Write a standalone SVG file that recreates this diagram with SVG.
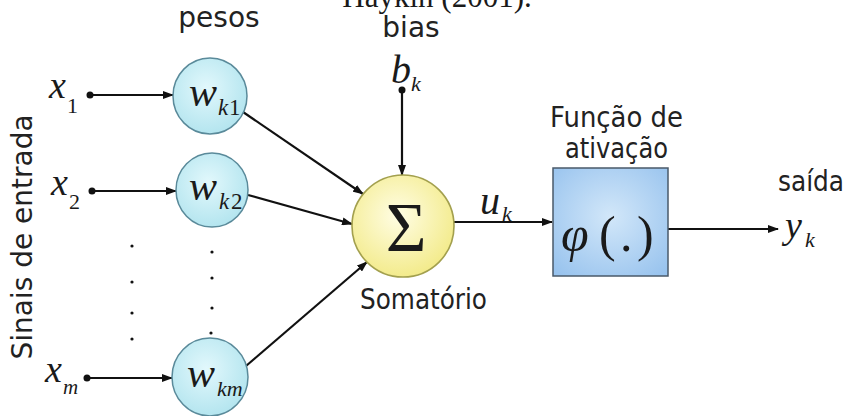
<svg xmlns="http://www.w3.org/2000/svg" width="851" height="416" viewBox="0 0 851 416">
<style>
.lbl{font-family:"DejaVu Sans","Verdana",sans-serif;font-size:28px;fill:#222}
.m{font-family:"Liberation Serif","Times New Roman",serif;font-style:italic;fill:#1a1a1a}
.up{font-family:"Liberation Serif","Times New Roman",serif;fill:#1a1a1a}
.ln{stroke:#111;stroke-width:2.2;fill:none}
.wc{fill:url(#gb);stroke:#5a8a9a;stroke-width:1.5}
.dot{fill:#111}
</style>
<defs>
<marker id="ah" markerUnits="userSpaceOnUse" markerWidth="11" markerHeight="8" refX="10" refY="4" orient="auto">
<path d="M0,0 L11,4 L0,8 z" fill="#111"/>
</marker>
<radialGradient id="gb" cx="0.45" cy="0.4" r="0.6">
<stop offset="0" stop-color="#e2f8fc"/>
<stop offset="1" stop-color="#b4e5ef"/>
</radialGradient>
<radialGradient id="gy" cx="0.45" cy="0.4" r="0.6">
<stop offset="0" stop-color="#fffde4"/>
<stop offset="1" stop-color="#f3eb8c"/>
</radialGradient>
<radialGradient id="gbox" cx="0.5" cy="0.45" r="0.7">
<stop offset="0" stop-color="#d2e7f9"/>
<stop offset="1" stop-color="#98c3ee"/>
</radialGradient>
</defs>
<rect width="851" height="416" fill="#fff"/>
<text class="up" x="437" y="7" font-size="31" text-anchor="middle">Haykin (2001).</text>
<text class="lbl" x="219" y="27" text-anchor="middle">pesos</text>
<text class="lbl" x="411" y="37" text-anchor="middle">bias</text>
<text class="lbl" transform="translate(32,237) rotate(-90)" text-anchor="middle" font-size="25">Sinais de entrada</text>
<g id="connectors">
<line class="ln" x1="90" y1="95" x2="173" y2="95" marker-end="url(#ah)"/>
<line class="ln" x1="92" y1="191" x2="176" y2="191" marker-end="url(#ah)"/>
<line class="ln" x1="87" y1="378" x2="172" y2="378" marker-end="url(#ah)"/>
<line class="ln" x1="243" y1="112" x2="363" y2="194" marker-end="url(#ah)"/>
<line class="ln" x1="248" y1="195" x2="352" y2="224" marker-end="url(#ah)"/>
<line class="ln" x1="246" y1="366" x2="367" y2="262" marker-end="url(#ah)"/>
<line class="ln" x1="402" y1="90" x2="402" y2="175" marker-end="url(#ah)"/>
<line class="ln" x1="454" y1="222" x2="552" y2="222" marker-end="url(#ah)"/>
<line class="ln" x1="668" y1="229" x2="778" y2="229" marker-end="url(#ah)"/>
</g>
<g id="x1">
<text class="m" x="49" y="98" font-size="38">x</text><text class="up" x="67" y="113" font-size="22">1</text>
<circle class="dot" cx="90" cy="95" r="3.5"/>
</g>
<g id="x2">
<text class="m" x="51" y="195" font-size="38">x</text><text class="up" x="69" y="209" font-size="22">2</text>
<circle class="dot" cx="92" cy="191" r="3.5"/>
</g>
<g id="xm">
<text class="m" x="45" y="382" font-size="38">x</text><text class="m" x="63" y="394" font-size="21">m</text>
<circle class="dot" cx="87" cy="378" r="3.5"/>
</g>
<g id="bk">
<text class="m" x="391" y="83" font-size="40">b</text><text class="m" x="411" y="91" font-size="22">k</text>
<circle class="dot" cx="402" cy="90" r="3.5"/>
</g>
<g id="dots">
<circle class="dot" cx="132" cy="246" r="1.6"/><circle class="dot" cx="132" cy="282" r="1.6"/><circle class="dot" cx="132" cy="313" r="1.6"/><circle class="dot" cx="132" cy="339" r="1.6"/>
<circle class="dot" cx="212" cy="252" r="1.6"/><circle class="dot" cx="212" cy="278" r="1.6"/><circle class="dot" cx="212" cy="308" r="1.6"/><circle class="dot" cx="211" cy="333" r="1.6"/>
</g>
<g id="wk1">
<ellipse class="wc" cx="210" cy="96" rx="37" ry="38"/>
<text class="m" x="189" y="106" font-size="42">w</text><text class="m" x="218" y="115" font-size="23">k</text><text class="up" x="229" y="115" font-size="23">1</text>
</g>
<g id="wk2">
<ellipse class="wc" cx="212" cy="190" rx="36" ry="37"/>
<text class="m" x="189" y="200" font-size="42">w</text><text class="m" x="219" y="209" font-size="23">k</text><text class="up" x="231" y="209" font-size="23">2</text>
</g>
<g id="wkm">
<ellipse class="wc" cx="210" cy="377" rx="38" ry="39"/>
<text class="m" x="187" y="387" font-size="42">w</text><text class="m" x="217" y="396" font-size="22">km</text>
</g>
<g id="sum">
<circle cx="403" cy="226" r="51" fill="url(#gy)" stroke="#a3a04e" stroke-width="1.6"/>
<text class="up" x="406" y="251" font-size="70" text-anchor="middle">Σ</text>
<text class="lbl" x="360" y="309" textLength="127" lengthAdjust="spacingAndGlyphs">Somatório</text>
</g>
<g id="uk">
<text class="m" x="480" y="214" font-size="40">u</text><text class="m" x="502" y="221" font-size="22">k</text>
</g>
<g id="act">
<text class="lbl" x="550" y="127" textLength="133" lengthAdjust="spacingAndGlyphs">Função de</text>
<text class="lbl" x="565" y="158" textLength="103" lengthAdjust="spacingAndGlyphs">ativação</text>
<rect x="553" y="168" width="115" height="108" fill="url(#gbox)" stroke="#4a5a6a" stroke-width="1.5"/>
<text class="m" x="561" y="251" font-size="50">φ</text>
<text class="up" x="599" y="251" font-size="50">(</text>
<text class="up" x="620" y="251" font-size="50">.</text>
<text class="up" x="637" y="251" font-size="50">)</text>
</g>
<g id="out">
<text class="lbl" x="778" y="191" textLength="66" lengthAdjust="spacingAndGlyphs">saída</text>
<text class="m" x="785" y="238" font-size="38">y</text><text class="m" x="805" y="247" font-size="22">k</text>
</g>
</svg>
